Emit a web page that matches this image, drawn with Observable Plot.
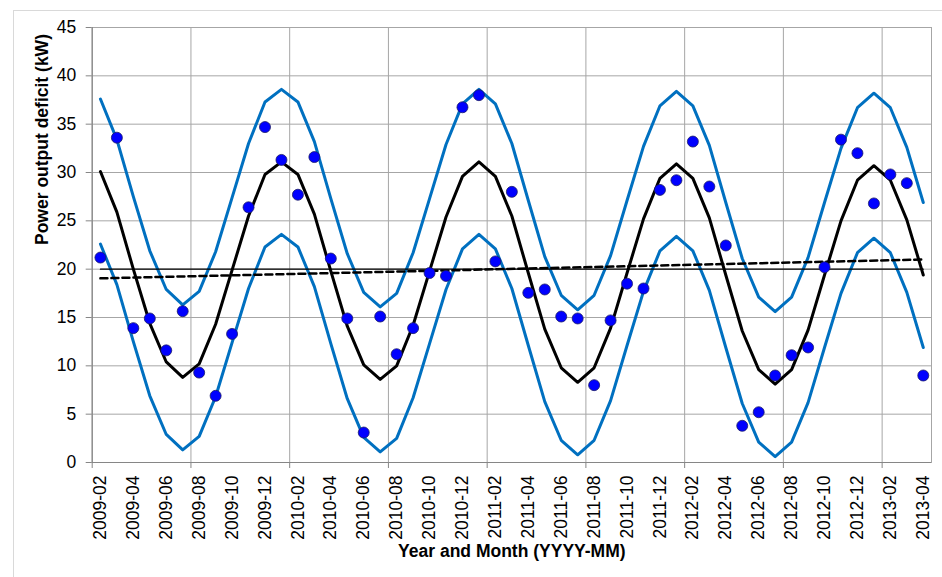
<!DOCTYPE html>
<html>
<head>
<meta charset="utf-8">
<script src="https://cdn.jsdelivr.net/npm/d3@7"></script>
<script src="https://cdn.jsdelivr.net/npm/@observablehq/plot@0.6"></script>
<style>
  html, body { margin: 0; padding: 0; background: #fff; }
  #wrap { position: relative; width: 942px; height: 577px; overflow: hidden; }
  #border { position: absolute; left: 13px; top: 10px; width: 1000px; height: 700px;
            border-left: 1px solid #d9d9d9; border-top: 1px solid #d9d9d9; pointer-events: none; }
</style>
</head>
<body>
<div id="wrap"><div id="chart"></div><div id="border"></div></div>
<script>
const months = ["2009-02","2009-03","2009-04","2009-05","2009-06","2009-07","2009-08","2009-09","2009-10","2009-11","2009-12",
  "2010-01","2010-02","2010-03","2010-04","2010-05","2010-06","2010-07","2010-08","2010-09","2010-10","2010-11","2010-12",
  "2011-01","2011-02","2011-03","2011-04","2011-05","2011-06","2011-07","2011-08","2011-09","2011-10","2011-11","2011-12",
  "2012-01","2012-02","2012-03","2012-04","2012-05","2012-06","2012-07","2012-08","2012-09","2012-10","2012-11","2012-12",
  "2013-01","2013-02","2013-03","2013-04"];

const observed = [21.2, 33.6, 13.9, 14.9, 11.6, 15.65, 9.3, 6.9, 13.3, 26.4,
  34.7, 31.3, 27.7, 31.6, 21.1, 14.9, 3.1, 15.1, 11.2, 13.9,
  19.6, 19.3, 36.75, 38.0, 20.8, 28.0, 17.55, 17.9, 15.1, 14.9,
  8.0, 14.7, 18.5, 18.0, 28.2, 29.2, 33.2, 28.55, 22.45, 3.8,
  5.2, 9.0, 11.1, 11.9, 20.2, 33.4, 32.0, 26.8, 29.8, 28.9, 9.0];

const fitted = [30.1, 25.9, 20.0, 14.4, 10.4, 8.8, 10.2, 14.3, 19.9, 25.5, 29.8,
  31.1, 29.8, 25.7, 19.8, 14.1, 10.1, 8.6, 10.0, 14.2, 19.8, 25.4, 29.6,
  31.1, 29.6, 25.5, 19.6, 13.8, 9.8, 8.3, 9.8, 13.9, 19.6, 25.2, 29.4,
  30.9, 29.4, 25.3, 19.4, 13.6, 9.6, 8.1, 9.6, 13.7, 19.4, 25.0, 29.2,
  30.7, 29.2, 25.1, 19.4];

const upperBound = [37.6, 33.4, 27.5, 21.9, 17.9, 16.3, 17.7, 21.8, 27.4, 33.0, 37.3,
  38.6, 37.3, 33.2, 27.3, 21.6, 17.6, 16.1, 17.5, 21.7, 27.3, 32.9, 37.1,
  38.6, 37.1, 33.0, 27.1, 21.3, 17.3, 15.8, 17.3, 21.4, 27.1, 32.7, 36.9,
  38.4, 36.9, 32.8, 26.9, 21.1, 17.1, 15.6, 17.1, 21.2, 26.9, 32.5, 36.7,
  38.2, 36.7, 32.6, 26.9];

const lowerBound = [22.6, 18.4, 12.5, 6.9, 2.9, 1.3, 2.7, 6.8, 12.4, 18.0, 22.3,
  23.6, 22.3, 18.2, 12.3, 6.6, 2.6, 1.1, 2.5, 6.7, 12.3, 17.9, 22.1,
  23.6, 22.1, 18.0, 12.1, 6.3, 2.3, 0.8, 2.3, 6.4, 12.1, 17.7, 21.9,
  23.4, 21.9, 17.8, 11.9, 6.1, 2.1, 0.6, 2.1, 6.2, 11.9, 17.5, 21.7,
  23.2, 21.7, 17.6, 11.9];

const trendIdx = [0, 50];
const trendVals = [19.05, 21.0];
const meanLevel = 20.0;

const yTicks = [0, 5, 10, 15, 20, 25, 30, 35, 40, 45];
const xBoundaries = [-0.5, 5.5, 11.5, 17.5, 23.5, 29.5, 35.5, 41.5, 47.5];
const labelIdx = months.map((m, i) => i).filter(i => i % 2 === 0);

const idx = months.map((m, i) => i);
const series = idx.map(i => ({i, obs: observed[i], fit: fitted[i], up: upperBound[i], lo: lowerBound[i]}));
const trend = trendIdx.map((i, k) => ({i, v: trendVals[k]}));
const meanLine = [{i: 0, v: meanLevel}, {i: months.length - 1, v: meanLevel}];

const font = "'Liberation Sans', Arial, sans-serif";
const blue = "#0070C0";
const grid = "#a6a6a6";

const chart = Plot.plot({
  width: 942,
  height: 577,
  marginLeft: 91.7,
  marginRight: 11,
  marginTop: 27,
  marginBottom: 115,
  x: {type: "linear", domain: [-0.5, 50.5], axis: null},
  y: {domain: [0, 45], axis: null},
  style: {fontFamily: font, fontSize: "17px", color: "#000", background: "transparent", overflow: "visible"},
  marks: [
    Plot.gridY(yTicks.slice(1, -1), {stroke: grid, strokeOpacity: 1, strokeWidth: 1}),
    Plot.gridX(xBoundaries.slice(1), {stroke: grid, strokeOpacity: 1, strokeWidth: 1}),
    Plot.frame({stroke: grid, strokeWidth: 1}),
    Plot.ruleX([-0.5], {stroke: "#868686", strokeWidth: 1.2}),
    Plot.ruleY([0], {stroke: "#868686", strokeWidth: 1.2}),
    Plot.axisY(yTicks, {anchor: "left", tickSize: 6, tickPadding: 10, stroke: "#868686", fontSize: 17.5, label: null}),
    Plot.axisX(xBoundaries, {anchor: "bottom", tickSize: 6, tickFormat: () => "", stroke: "#868686", label: null}),
    Plot.axisX(labelIdx, {anchor: "bottom", tickSize: 0, tickRotate: -90, tickPadding: 13, fontSize: 17.5,
      tickFormat: i => months[i], label: null}),
    Plot.text(["Power output deficit (kW)"], {frameAnchor: "left", rotate: -90, dx: -50, fontWeight: "bold", fontSize: 17.5, fill: "#000"}),
    Plot.text(["Year and Month (YYYY-MM)"], {frameAnchor: "bottom", dy: 94, fontWeight: "bold", fontSize: 17.5, fill: "#000"}),
    Plot.line(series, {x: "i", y: "up", stroke: blue, strokeWidth: 3}),
    Plot.line(series, {x: "i", y: "lo", stroke: blue, strokeWidth: 3}),
    Plot.line(series, {x: "i", y: "fit", stroke: "#000", strokeOpacity: 0.6, strokeWidth: 4.5, dx: 2.5, dy: 3.5, ariaLabel: "shadow"}),
    Plot.line(series, {x: "i", y: "fit", stroke: "#000", strokeWidth: 3}),
    Plot.line(meanLine, {x: "i", y: "v", stroke: "#000", strokeWidth: 1.3}),
    Plot.line(trend, {x: "i", y: "v", stroke: "#000", strokeWidth: 2.5, strokeDasharray: "7,4"}),
    Plot.dot(series, {x: "i", y: "obs", r: 5.5, fill: "#0000FF", stroke: "#1a1a66", strokeWidth: 0.8})
  ]
});

const ns = "http://www.w3.org/2000/svg";
const defs = document.createElementNS(ns, "defs");
defs.innerHTML = '<filter id="shadowBlur" x="-5%" y="-20%" width="110%" height="140%"><feGaussianBlur stdDeviation="2"/></filter>';
chart.insertBefore(defs, chart.firstChild);
const sh = chart.querySelector('g[aria-label="shadow"]');
if (sh) sh.setAttribute("filter", "url(#shadowBlur)");

document.getElementById("chart").appendChild(chart);
</script>
</body>
</html>
